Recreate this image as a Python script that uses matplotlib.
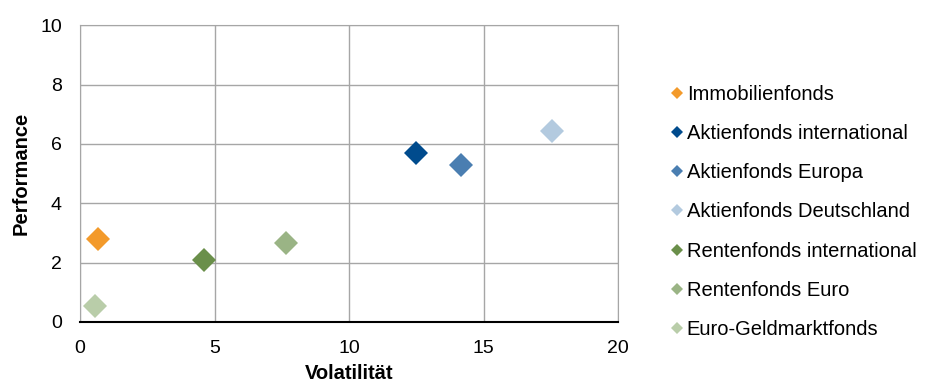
import matplotlib
matplotlib.use('Agg')
import matplotlib.pyplot as plt

plt.rcParams['font.family'] = ['Liberation Sans', 'DejaVu Sans']

# Fund categories with volatility / performance (percent)
funds = ['Immobilienfonds', 'Aktienfonds international', 'Aktienfonds Europa',
         'Aktienfonds Deutschland', 'Rentenfonds international',
         'Rentenfonds Euro', 'Euro-Geldmarktfonds']
volatility = [0.67, 12.5, 14.15, 17.55, 4.6, 7.65, 0.55]
performance = [2.78, 5.7, 5.3, 6.42, 2.1, 2.65, 0.55]
colors = ['#F39A2B', '#004B8D', '#4A7EB1', '#B3CADF', '#6A8F4A',
          '#9AB485', '#B9CDA9']

xticks = [0, 5, 10, 15, 20]
yticks = [0, 2, 4, 6, 8, 10]

fig = plt.figure(figsize=(9.28, 3.87), dpi=100)
ax = fig.add_axes([0.0862, 0.168, 0.580, 0.767])

for name, x, y, c in zip(funds, volatility, performance, colors):
    ax.plot([x], [y], linestyle='none', marker='D', markersize=12.5,
            color=c, markeredgewidth=0, label=name, zorder=3)

ax.set_xlim(0, 20)
ax.set_ylim(0, 10)
ax.set_xticks(xticks)
ax.set_yticks(yticks)
ax.grid(True, color='#A6A6A6', linewidth=1.0)
ax.set_axisbelow(True)
for side in ['top', 'right', 'left']:
    ax.spines[side].set_color('#A6A6A6')
ax.spines['bottom'].set_color('black')
ax.spines['bottom'].set_linewidth(1.5)
ax.spines['bottom'].set_zorder(4)
ax.tick_params(length=0, labelsize=14)
ax.tick_params(axis='y', pad=13)
ax.tick_params(axis='x', pad=13)

ax.set_xlabel('Volatilität', fontsize=14.5, fontweight='bold', labelpad=5)
ax.set_ylabel('Performance', fontsize=14.5, fontweight='bold', labelpad=7)

leg = ax.legend(loc='upper left', frameon=False,
                fontsize=14.5, markerscale=0.45, handlelength=0.6,
                handletextpad=0.2, labelspacing=1.0, borderaxespad=0.0)
leg.set_bbox_to_anchor((0.714, 0.801), transform=fig.transFigure)

fig.savefig('out.png', dpi=100)
